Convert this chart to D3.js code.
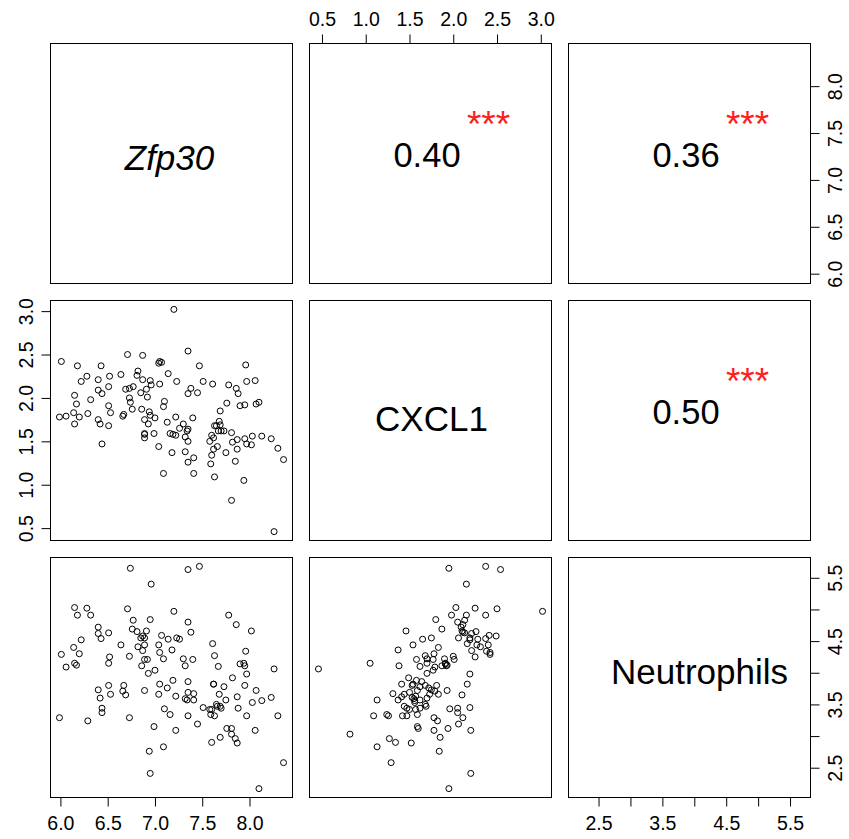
<!DOCTYPE html>
<html>
<head>
<meta charset="utf-8">
<script src="https://cdn.jsdelivr.net/npm/d3@7"></script>
<style>
  body { margin: 0; background: #fff; }
  svg text { font-family: "Liberation Sans", Arial, Helvetica, sans-serif; }
</style>
</head>
<body>
<svg id="chart" width="849" height="839"></svg>
<script>
// One record per sample: expression of Zfp30, CXCL1 and neutrophil score
const zfp30 = [
  5.99,6.01,6.06,6.14,6.15,6.15,6.17,6.18,6.20,6.22,
  6.28,6.29,6.32,6.40,6.40,6.40,6.42,6.43,6.44,6.44,
  6.51,6.51,6.51,6.52,6.53,6.64,6.66,6.67,6.69,6.71,
  6.73,6.73,6.74,6.76,6.77,6.81,6.82,6.85,6.86,6.87,
  6.87,6.89,6.89,6.89,6.89,6.91,6.92,6.93,6.94,6.95,
  6.95,6.96,6.99,7.00,7.04,7.04,7.05,7.05,7.07,7.09,
  7.09,7.10,7.13,7.14,7.16,7.18,7.19,7.20,7.22,7.22,
  7.23,7.26,7.30,7.32,7.32,7.34,7.35,7.35,7.35,7.35,
  7.35,7.38,7.40,7.41,7.41,7.45,7.47,7.51,7.58,7.59,
  7.60,7.60,7.61,7.62,7.62,7.63,7.63,7.65,7.66,7.67,
  7.68,7.69,7.69,7.70,7.73,7.75,7.76,7.78,7.81,7.81,
  7.82,7.85,7.86,7.87,7.87,7.88,7.90,7.94,7.95,7.95,
  7.96,7.97,7.97,8.02,8.03,8.06,8.07,8.10,8.13,8.23,
  8.26,8.30,8.36
];
const cxcl1 = [
  1.78,2.42,1.79,1.83,1.70,2.03,1.93,2.37,1.78,2.19,
  2.25,1.82,1.98,2.09,2.21,1.75,1.70,2.37,2.05,1.47,
  2.13,1.91,1.68,2.25,1.83,2.27,1.79,1.81,2.10,2.50,
  2.11,2.00,1.95,1.87,2.13,2.26,2.31,2.06,1.87,2.21,
  2.49,1.75,1.58,1.54,1.59,2.10,2.01,1.70,1.84,2.20,
  1.80,2.15,1.59,1.77,1.44,2.40,2.16,2.42,2.41,1.90,
  1.13,1.96,1.72,2.28,1.59,1.37,1.58,3.02,1.78,1.57,
  2.19,1.65,1.70,1.55,1.38,1.62,2.54,2.05,1.64,1.50,
  1.26,2.11,1.77,1.31,1.13,2.06,2.37,2.19,1.50,1.24,
  1.34,1.57,2.16,1.54,1.41,1.09,1.68,1.68,1.44,1.62,
  1.73,1.85,1.69,1.62,1.62,1.37,1.94,2.15,1.60,0.82,
  1.49,1.27,2.11,1.41,1.52,2.05,1.91,1.05,1.92,1.53,
  2.38,2.19,1.47,1.46,1.56,2.20,1.93,1.95,1.56,1.53,
  0.46,1.42,1.29
];
const neutrophils = [
  3.29,4.29,4.09,4.40,4.15,5.03,4.12,4.91,4.30,4.52,
  5.02,3.24,4.91,4.72,4.62,3.73,3.60,4.54,3.37,3.44,
  4.63,4.15,3.80,4.25,3.66,4.44,3.71,3.80,3.65,5.01,
  3.29,4.26,5.65,4.69,4.83,4.65,4.41,4.55,4.11,4.35,
  4.58,4.55,4.21,4.44,3.72,4.66,4.21,3.99,2.76,2.41,
  4.84,5.40,3.15,4.04,3.66,4.44,3.82,4.32,4.59,4.22,
  2.83,3.43,3.76,4.53,3.34,4.36,3.88,4.97,3.09,3.63,
  4.55,4.53,4.22,3.59,4.11,3.57,5.63,4.80,3.86,3.69,
  3.32,4.64,4.21,3.67,3.57,3.19,5.68,3.45,3.42,3.34,
  2.90,3.42,4.46,3.82,3.82,3.32,4.27,3.50,3.47,4.10,
  3.66,2.98,3.47,3.44,3.78,3.57,3.12,4.91,3.12,3.03,
  3.92,2.96,4.76,3.62,2.89,3.44,4.14,4.15,4.11,3.80,
  4.34,3.98,3.32,4.66,3.53,3.09,3.72,2.17,3.56,3.61,
  4.06,3.32,2.58
];

const varNames = ["Zfp30", "CXCL1", "Neutrophils"];
const varItalic = [true, false, false];

// Upper-triangle correlation labels, in order (1,2), (1,3), (2,3)
const corrPairs = [[0, 1], [0, 2], [1, 2]];
const corrText = ["0.40", "0.36", "0.50"];
const corrStars = ["***", "***", "***"];

// Axis ticks per variable
const zfp30Ticks = [6.0, 6.5, 7.0, 7.5, 8.0];
const cxcl1Ticks = [0.5, 1.0, 1.5, 2.0, 2.5, 3.0];
const neutroTicks = [2.5, 3.0, 3.5, 4.0, 4.5, 5.0, 5.5];
const neutroTickLabels = ["2.5", "", "3.5", "", "4.5", "", "5.5"];

const tickSets = [zfp30Ticks, cxcl1Ticks, neutroTicks];
const tickLabelSets = [
  zfp30Ticks.map(d => d.toFixed(1)),
  cxcl1Ticks.map(d => d.toFixed(1)),
  neutroTickLabels
];

// ---- layout ----
const svg = d3.select("#chart");
const colX = [50.5, 309.5, 568.5], panelW = 242;
const rowY = [43.5, 300.5, 557.5], panelH = 240;
const axisFont = 19.5, labelFont = 35;
// horizontal nudge of each diagonal label from its panel centre
const diagShift = [-2, 1, 10];

const vars = [zfp30, cxcl1, neutrophils];
const n = vars.length;

// ranges padded by 4% on each side
function padded(v) {
  const [lo, hi] = d3.extent(v);
  const p = (hi - lo) * 0.04;
  return [lo - p, hi + p];
}
const xs = vars.map((v, k) => d3.scaleLinear().domain(padded(v)).range([colX[k], colX[k] + panelW]));
const ys = vars.map((v, k) => d3.scaleLinear().domain(padded(v)).range([rowY[k] + panelH, rowY[k]]));

// ---- panels ----
for (let i = 0; i < n; i++) {
  for (let j = 0; j < n; j++) {
    const g = svg.append("g");
    const cx = colX[j] + panelW / 2, cy = rowY[i] + panelH / 2;

    if (i > j) {
      // scatter: x = variable j, y = variable i
      g.selectAll("circle")
        .data(d3.range(vars[0].length))
        .join("circle")
        .attr("cx", d => xs[j](vars[j][d]))
        .attr("cy", d => ys[i](vars[i][d]))
        .attr("r", 3.0)
        .attr("fill", "none")
        .attr("stroke", "#000")
        .attr("stroke-width", 1);
    } else if (i === j) {
      const hasDesc = /[pgjqy]/.test(varNames[i]);
      g.append("text")
        .attr("x", cx + diagShift[i])
        .attr("y", cy + (hasDesc ? 6 : 10))
        .attr("text-anchor", "middle")
        .attr("font-size", labelFont)
        .attr("font-style", varItalic[i] ? "italic" : "normal")
        .text(varNames[i]);
    } else {
      const k = corrPairs.findIndex(p => p[0] === i && p[1] === j);
      g.append("text")
        .attr("x", cx - 3.5)
        .attr("y", cy + 3.5)
        .attr("text-anchor", "middle")
        .attr("font-size", labelFont - 0.5)
        .text(corrText[k]);
      g.append("text")
        .attr("x", colX[j] + 179)
        .attr("y", rowY[i] + 93)
        .attr("text-anchor", "middle")
        .attr("font-size", labelFont + 2)
        .attr("fill", "#ff1f1f")
        .text(corrStars[k]);
    }

    g.append("rect")
      .attr("x", colX[j]).attr("y", rowY[i])
      .attr("width", panelW).attr("height", panelH)
      .attr("fill", "none").attr("stroke", "#000").attr("stroke-width", 1);
  }
}

// ---- axes: alternating sides as in a scatterplot matrix ----
function styleAxis(sel, k) {
  sel.select(".domain").remove();
  sel.selectAll(".tick line").attr("stroke", "#000");
  sel.selectAll(".tick text")
    .attr("fill", "#000")
    .attr("font-size", axisFont)
    .attr("font-family", "Liberation Sans, Arial, Helvetica, sans-serif")
    .text((d, idx) => tickLabelSets[k][idx]);
}

function xAxis(k, side) {
  const ax = (side === "top" ? d3.axisTop(xs[k]) : d3.axisBottom(xs[k]))
    .tickValues(tickSets[k]).tickSize(9).tickSizeOuter(0);
  const yPos = side === "top" ? rowY[0] : rowY[n - 1] + panelH;
  const g = svg.append("g").attr("transform", `translate(0,${yPos})`).call(ax);
  styleAxis(g, k);
  g.selectAll(".tick text")
    .attr("dy", null)
    .attr("y", side === "top" ? -18 : 32);
}

function yAxis(k, side) {
  const ax = (side === "left" ? d3.axisLeft(ys[k]) : d3.axisRight(ys[k]))
    .tickValues(tickSets[k]).tickSize(9).tickSizeOuter(0);
  const xPos = side === "left" ? colX[0] : colX[n - 1] + panelW;
  const g = svg.append("g").attr("transform", `translate(${xPos},0)`).call(ax);
  styleAxis(g, k);
  g.selectAll(".tick text")
    .attr("dy", null)
    .attr("x", 0)
    .attr("y", side === "left" ? -18 : 31)
    .attr("text-anchor", "middle")
    .attr("transform", "rotate(-90)");
}

xAxis(0, "bottom");
xAxis(1, "top");
xAxis(2, "bottom");
yAxis(0, "right");
yAxis(1, "left");
yAxis(2, "right");
</script>
</body>
</html>
